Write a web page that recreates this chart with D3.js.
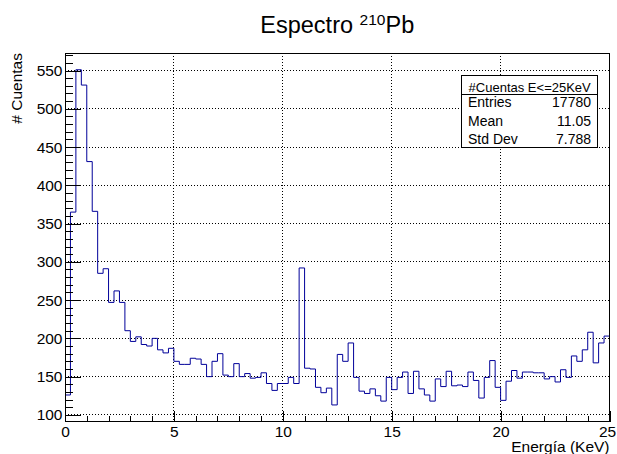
<!DOCTYPE html>
<html>
<head>
<meta charset="utf-8">
<script src="https://cdn.jsdelivr.net/npm/d3@7"></script>
<style>
  body { margin: 0; background: #fff; }
  svg { display: block; }
  text { font-family: "Liberation Sans", Arial, Helvetica, sans-serif; fill: #000; }
</style>
</head>
<body>
<svg id="chart" width="617" height="454"></svg>
<script>
// Histogram definition: 100 bins of 0.25 KeV between 0 and 25 KeV
const energyRange = [0, 25];
const binCount = 100;

// Counts per bin
const counts = [
  126, 365, 551, 531, 431, 366, 285, 291, 247, 262,
  247, 210, 196, 202, 192, 190, 200, 185, 181, 187,
  170, 166, 166, 174, 173, 166, 150, 170, 180, 152,
  150, 167, 150, 154, 148, 149, 155, 141, 132, 141,
  141, 149, 141, 292, 161, 160, 136, 129, 135, 113,
  179, 170, 194, 149, 131, 128, 134, 125, 118, 149,
  133, 149, 156, 128, 157, 134, 126, 118, 147, 137,
  157, 138, 139, 137, 156, 145, 122, 149, 171, 136,
  119, 144, 158, 148, 156, 156, 155, 155, 147, 150,
  143, 159, 149, 177, 170, 185, 208, 168, 194, 203
];

const xMajorTicks = [0, 5, 10, 15, 20, 25];
const xMinorTicks = [1, 2, 3, 4, 6, 7, 8, 9, 11, 12, 13, 14, 16, 17, 18, 19, 21, 22, 23, 24];
const yMajorTicks = [100, 150, 200, 250, 300, 350, 400, 450, 500, 550];

const titleMain = "Espectro ";
const titleSup = "210";
const titleTail = "Pb";
const xTitle = "Energía (KeV)";
const yTitle = "# Cuentas";

const statsTitle = "#Cuentas E<=25KeV";
const statsLabels = ["Entries", "Mean", "Std Dev"];
const statsValues = ["17780", "11.05", "7.788"];

// ---- layout ----
const frame = { left: 65, right: 609.5, top: 53, bottom: 421.7 };
const svg = d3.select("#chart");

const binWidth = (energyRange[1] - energyRange[0]) / binCount;
const lo = d3.min(counts), hi = d3.max(counts);
const pad = 0.05 * (hi - lo);

const x = d3.scaleLinear().domain(energyRange).range([frame.left, frame.right]);
const y = d3.scaleLinear().domain([lo - pad, hi + pad]).range([frame.bottom, frame.top]);

const yMinorTicks = d3.range(Math.ceil((lo - pad) / 10) * 10, hi + pad, 10)
  .filter(v => v % 50 !== 0);

// ---- dotted grid ----
const grid = svg.append("g")
  .attr("stroke", "#000").attr("stroke-width", 1)
  .attr("stroke-dasharray", "1 2").attr("shape-rendering", "crispEdges");
grid.selectAll("line.gx").data(xMajorTicks.filter(v => v > energyRange[0] && v < energyRange[1]))
  .join("line").attr("class", "gx")
  .attr("x1", d => x(d)).attr("x2", d => x(d))
  .attr("y1", frame.top).attr("y2", frame.bottom);
grid.selectAll("line.gy").data(yMajorTicks)
  .join("line").attr("class", "gy")
  .attr("x1", frame.left).attr("x2", frame.right)
  .attr("y1", d => y(d)).attr("y2", d => y(d));

// ---- histogram outline ----
const pts = counts.map((c, i) => [energyRange[0] + i * binWidth, c]);
pts.push([energyRange[1], counts[counts.length - 1]]);
svg.append("path")
  .attr("d", d3.line().x(d => x(d[0])).y(d => y(d[1])).curve(d3.curveStepAfter)(pts))
  .attr("fill", "none").attr("stroke", "#000099").attr("stroke-width", 1);

// ---- axes (ticks point into the frame) ----
const fontSize = 15.5;
const xAxis = svg.append("g").attr("transform", `translate(0,${frame.bottom})`)
  .call(d3.axisBottom(x).tickValues(xMajorTicks).tickSize(-11).tickPadding(4.5)
    .tickFormat(d3.format("d")));
xAxis.append("g").call(d3.axisBottom(x).tickValues(xMinorTicks).tickSize(-5.5).tickFormat(""));
// keep the last label inside the canvas
xAxis.selectAll(".tick text").filter(d => d === energyRange[1]).attr("dx", -2.5);

const yAxis = svg.append("g").attr("transform", `translate(${frame.left},0)`)
  .call(d3.axisLeft(y).tickValues(yMajorTicks).tickSize(-16).tickPadding(2.5)
    .tickFormat(d3.format("d")));
yAxis.append("g").call(d3.axisLeft(y).tickValues(yMinorTicks).tickSize(-8).tickFormat(""));

svg.selectAll(".domain").remove();
svg.selectAll(".tick line").attr("stroke", "#000").attr("shape-rendering", "crispEdges");
svg.selectAll(".tick text")
  .attr("font-family", "'Liberation Sans', Arial, sans-serif")
  .attr("font-size", fontSize).attr("fill", "#000");

// ---- frame ----
svg.append("rect")
  .attr("x", frame.left).attr("y", frame.top)
  .attr("width", frame.right - frame.left).attr("height", frame.bottom - frame.top)
  .attr("fill", "none").attr("stroke", "#000").attr("stroke-width", 1)
  .attr("shape-rendering", "crispEdges");

// ---- axis titles ----
svg.append("text")
  .attr("x", frame.right).attr("y", 451.5)
  .attr("text-anchor", "end").attr("font-size", fontSize)
  .text(xTitle);

svg.append("text")
  .attr("transform", `translate(21.7,${frame.top}) rotate(-90)`)
  .attr("text-anchor", "end").attr("font-size", fontSize)
  .text(yTitle);

// ---- title ----
const title = svg.append("text")
  .attr("x", (frame.left + frame.right) / 2).attr("y", 33.3)
  .attr("text-anchor", "middle").attr("font-size", 23.5);
title.append("tspan").text(titleMain);
title.append("tspan").attr("font-size", 15.5).attr("dy", -8.3).text(titleSup);
title.append("tspan").attr("dy", 8.3).text(titleTail);

// ---- statistics box ----
const box = { x: 461.7, y: 75, w: 136, h: 72.7 };
const stats = svg.append("g");
stats.append("rect")
  .attr("x", box.x).attr("y", box.y).attr("width", box.w).attr("height", box.h)
  .attr("fill", "#fff").attr("stroke", "#000").attr("shape-rendering", "crispEdges");
stats.append("line")
  .attr("x1", box.x).attr("x2", box.x + box.w)
  .attr("y1", 94.3).attr("y2", 94.3)
  .attr("stroke", "#000").attr("shape-rendering", "crispEdges");
stats.append("text")
  .attr("x", box.x + box.w / 2).attr("y", 91.5)
  .attr("text-anchor", "middle").attr("font-size", 13)
  .text(statsTitle);
const rowY = [107.3, 125.5, 144];
stats.selectAll("text.lab").data(statsLabels).join("text").attr("class", "lab")
  .attr("x", 468).attr("y", (d, i) => rowY[i]).attr("font-size", 14).text(d => d);
stats.selectAll("text.val").data(statsValues).join("text").attr("class", "val")
  .attr("x", 591).attr("y", (d, i) => rowY[i]).attr("text-anchor", "end")
  .attr("font-size", 14).text(d => d);
</script>
</body>
</html>
